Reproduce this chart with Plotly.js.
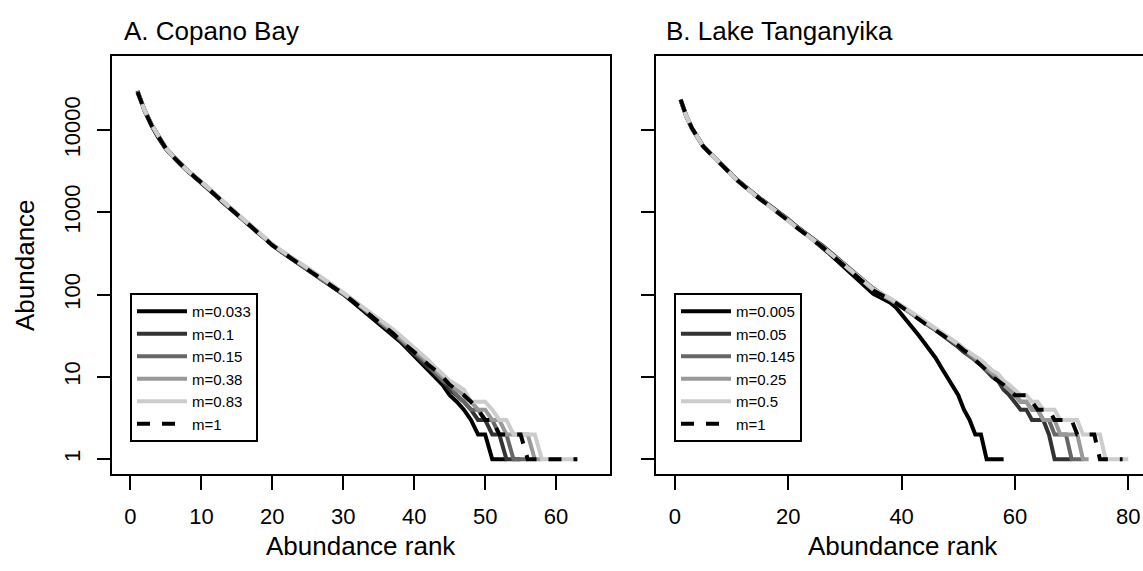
<!DOCTYPE html>
<html>
<head>
<meta charset="utf-8">
<script src="https://cdn.plot.ly/plotly-3.0.1.min.js"></script>
<style>html,body{margin:0;padding:0;background:#fff;overflow:hidden}</style>
</head>
<body>
<div id="chart" style="width:1143px;height:571px"></div>
<script>
// ---------- data ----------
const panelTitles = ["A. Copano Bay", "B. Lake Tanganyika"];
const xTitle = "Abundance rank";
const yTitle = "Abundance";
const yTickVals = [1, 10, 100, 1000, 10000];
const yTickText = ["1", "10", "100", "1000", "10000"];
const xTicksA = [0, 10, 20, 30, 40, 50, 60];
const xTicksB = [0, 20, 40, 60, 80];

const labelsA = ["m=0.033", "m=0.1", "m=0.15", "m=0.38", "m=0.83", "m=1"];
const labelsB = ["m=0.005", "m=0.05", "m=0.145", "m=0.25", "m=0.5", "m=1"];

// Copano Bay: abundance by rank (rank 1..N)
const copano_m0033 = [30000,17000,11200,7900,5900,4700,3850,3200,2700,2300,1920,1600,1330,1110,940,790,670,560,475,395,345,300,262,232,202,176,153,133,115,101,
  86,73,62,53,45,38,32,27,22,18,15,12,10,8,6,5,4,3,2,2,1,1,1];
const copano_m01 = [29000,17500,11600,8200,6050,4850,3920,3260,2760,2350,1960,1630,1360,1130,960,800,680,566,482,400,350,304,265,235,205,179,156,136,118,104,
  89,76,65,55,47,40,34,28,23,19,16,13,11,9,7,6,5,4,3,3,2,2,1,1,1];
const copano_m015 = [28500,17200,11400,8050,5980,4800,3900,3230,2740,2330,1940,1610,1345,1115,950,790,674,560,478,397,346,301,262,233,203,177,154,134,116,103,
  90,77,66,56,48,41,35,29,24,20,17,14,11,9,8,6,5,4,4,3,3,2,2,1,1,1];
const copano_m038 = [29500,17600,11700,8150,6000,4780,3880,3250,2760,2360,1970,1640,1360,1130,965,805,685,570,485,405,352,306,267,237,207,181,158,138,120,106,
  91,78,67,57,49,42,36,30,25,21,18,15,12,10,8,7,6,5,4,4,3,3,2,2,2,2,1,1];
const copano_m083 = [28800,17300,11500,8100,6020,4820,3910,3250,2770,2370,1980,1650,1375,1145,975,815,695,580,492,410,357,311,271,241,211,184,161,141,122,108,
  93,80,69,59,51,44,38,32,27,23,19,16,13,11,9,8,7,5,5,5,4,3,3,2,2,2,2,1,1,1,1,1,1];
const copano_m1 = [29000,17200,11300,8000,5950,4750,3870,3220,2730,2330,1940,1610,1340,1115,950,792,674,561,478,398,347,302,263,234,204,178,155,135,117,103,
  88,75,64,54,46,40,34,28,24,20,17,14,12,10,8,7,6,5,4,3,3,2,2,2,2,1,1,1,1,1,1,1,1];

// Lake Tanganyika: abundance by rank (rank 1..N)
const tang_m0005 = [23000,14600,10400,7900,6280,5340,4540,3870,3300,2880,2460,2160,1880,1650,1480,1310,1170,1020,905,805,700,622,552,490,425,376,326,282,244,215,186,160,137,118,102,
  94,86,80,70,58,48,39,32,26,21,17,13,10,8,6,4,3,2,2,1,1,1,1];
const tang_m005 = [23500,14900,10600,8000,6350,5400,4600,3920,3340,2900,2480,2170,1890,1650,1480,1320,1180,1030,920,820,715,640,570,508,445,396,346,302,264,236,206,180,157,137,119,
  107,98,89,80,72,64,57,51,46,41,37,33,29,26,23,20,18,16,14,12,10,9,7,6,5,4,4,3,3,3,2,1,1,1,1];
const tang_m0145 = [23200,14700,10500,7950,6300,5360,4560,3880,3300,2870,2450,2140,1860,1625,1455,1295,1155,1005,897,800,700,624,556,496,434,386,337,294,257,229,200,175,152,133,116,
  105,96,87,79,71,63,57,51,46,41,37,33,30,27,24,21,18,16,14,12,11,9,8,7,6,5,5,4,4,3,3,2,2,2,1,1,1];
const tang_m025 = [23600,14900,10550,7980,6330,5390,4590,3900,3320,2890,2460,2150,1870,1630,1460,1300,1160,1010,900,802,700,624,556,495,432,384,335,292,255,227,198,173,151,131,114,
  104,96,87,79,71,64,57,51,46,42,38,34,31,28,25,22,19,17,15,13,11,10,8,7,6,5,5,4,4,3,3,3,2,2,2,2,1,1];
const tang_m05 = [23300,14750,10480,7930,6300,5360,4560,3880,3300,2870,2440,2130,1855,1615,1445,1285,1145,998,890,795,695,620,553,493,431,384,336,293,256,229,200,175,153,134,117,
  107,99,90,82,74,66,59,53,48,43,39,35,31,28,25,22,20,18,16,14,12,11,9,8,7,6,6,5,5,4,4,4,3,3,3,3,2,2,2,2,1,1,1,1,1];
const tang_m1 = [23400,14800,10500,7940,6310,5370,4570,3890,3310,2880,2450,2140,1860,1620,1450,1290,1150,1000,891,794,692,617,550,490,427,380,331,288,251,224,195,170,148,129,112,
  103,95,87,79,71,63,56,50,45,41,37,33,30,27,24,21,19,16,14,12,10,9,8,7,6,6,6,5,4,4,4,3,3,3,3,2,2,2,2,1,1,1,1,1];

const seriesA = [copano_m0033, copano_m01, copano_m015, copano_m038, copano_m083, copano_m1];
const seriesB = [tang_m0005, tang_m005, tang_m0145, tang_m025, tang_m05, tang_m1];

// ---------- styling ----------
const colors = ["#000000", "#333333", "#666666", "#999999", "#cccccc", "#000000"];
const dashes = ["solid", "solid", "solid", "solid", "solid", "13px,12px"];
const FONT = "Liberation Sans, Arial, Helvetica, sans-serif";
const W = 1143, H = 571;

function ranks(arr) { return arr.map((_, i) => i + 1); }

const traces = [];
seriesA.forEach((vals, i) => {
  traces.push({
    x: ranks(vals), y: vals, type: "scatter", mode: "lines",
    name: labelsA[i], xaxis: "x", yaxis: "y", legend: "legend",
    line: {color: colors[i], width: 4, dash: dashes[i]},
    hoverinfo: "skip"
  });
});
seriesB.forEach((vals, i) => {
  traces.push({
    x: ranks(vals), y: vals, type: "scatter", mode: "lines",
    name: labelsB[i], xaxis: "x2", yaxis: "y2", legend: "legend2",
    line: {color: colors[i], width: 4, dash: dashes[i]},
    hoverinfo: "skip"
  });
});

const yDom = [97 / H, 515 / H];
const commonAxis = {
  showgrid: false, zeroline: false, showline: true, linecolor: "#000", linewidth: 2,
  ticks: "outside", tickcolor: "#000", tickwidth: 2,
  tickfont: {family: FONT, size: 22, color: "#000"}
};

const legendCommon = {
  xref: "paper", yref: "paper", xanchor: "left", yanchor: "top",
  y: 1 - 293 / H, bgcolor: "#fff", bordercolor: "#000", borderwidth: 2,
  font: {family: FONT, size: 15, color: "#000"}, traceorder: "normal", itemwidth: 50
};

const layout = {
  width: W, height: H,
  margin: {l: 0, r: 0, t: 0, b: 0, autoexpand: false},
  paper_bgcolor: "#fff", plot_bgcolor: "#fff",
  font: {family: FONT, color: "#000"},
  showlegend: true,
  xaxis: Object.assign({}, commonAxis, {
    domain: [112 / W, 610 / W], range: [-2.6, 67.6], tickvals: xTicksA,
    ticklen: 14, ticklabelstandoff: 8, mirror: true, anchor: "y"
  }),
  yaxis: Object.assign({}, commonAxis, {
    domain: yDom, type: "log", range: [-0.18, 4.9], tickvals: yTickVals, ticktext: yTickText,
    tickangle: -90, ticklen: 13, ticklabelstandoff: 8, mirror: true, anchor: "x"
  }),
  xaxis2: Object.assign({}, commonAxis, {
    domain: [656 / W, 1], range: [-3.35, 82.6], tickvals: xTicksB,
    ticklen: 14, ticklabelstandoff: 8, mirror: true, anchor: "y2"
  }),
  yaxis2: Object.assign({}, commonAxis, {
    domain: yDom, type: "log", range: [-0.18, 4.9], tickvals: yTickVals,
    showticklabels: false, ticklen: 13, mirror: false, anchor: "x2"
  }),
  legend: Object.assign({}, legendCommon, {x: 130 / W}),
  legend2: Object.assign({}, legendCommon, {x: 674 / W}),
  annotations: [
    {text: panelTitles[0], x: 122 / W, y: 1 - 31 / H, xref: "paper", yref: "paper",
     xanchor: "left", yanchor: "middle", showarrow: false, font: {family: FONT, size: 26, color: "#000"}},
    {text: panelTitles[1], x: 664 / W, y: 1 - 31 / H, xref: "paper", yref: "paper",
     xanchor: "left", yanchor: "middle", showarrow: false, font: {family: FONT, size: 26, color: "#000"}},
    {text: xTitle, x: 361 / W, y: 1 - 546 / H, xref: "paper", yref: "paper",
     xanchor: "center", yanchor: "middle", showarrow: false, font: {family: FONT, size: 26, color: "#000"}},
    {text: xTitle, x: 903 / W, y: 1 - 546 / H, xref: "paper", yref: "paper",
     xanchor: "center", yanchor: "middle", showarrow: false, font: {family: FONT, size: 26, color: "#000"}},
    {text: yTitle, x: 25 / W, y: 1 - 265 / H, xref: "paper", yref: "paper", textangle: -90,
     xanchor: "center", yanchor: "middle", showarrow: false, font: {family: FONT, size: 26, color: "#000"}}
  ]
};

Plotly.newPlot("chart", traces, layout, {staticPlot: true, displayModeBar: false});
</script>
</body>
</html>
